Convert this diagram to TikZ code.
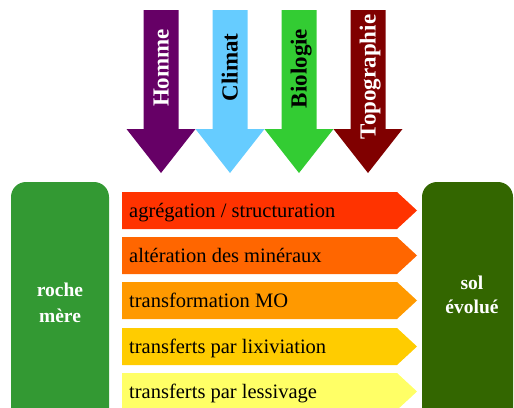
\documentclass[tikz,border=0pt]{standalone}
\usepackage{fontspec}
\setmainfont{Liberation Serif}
\definecolor{cHomme}{HTML}{660066}
\definecolor{cClimat}{HTML}{66CCFF}
\definecolor{cBio}{HTML}{33CC33}
\definecolor{cTopo}{HTML}{800000}
\definecolor{cBarA}{HTML}{FF3300}
\definecolor{cBarB}{HTML}{FF6600}
\definecolor{cBarC}{HTML}{FF9900}
\definecolor{cBarD}{HTML}{FFCC00}
\definecolor{cBarE}{HTML}{FFFF66}
\definecolor{cRoche}{HTML}{339933}
\definecolor{cSol}{HTML}{336600}
\begin{document}
\begin{tikzpicture}[x=1pt,y=-1pt,
  vtext/.style={rotate=90,anchor=base,inner sep=0pt,font=\fontsize{23}{27}\selectfont\bfseries},
  bartext/.style={anchor=base west,inner sep=0pt,text=black,font=\fontsize{20.5}{24}\selectfont},
  boxtext/.style={anchor=base,inner sep=0pt,text=white,font=\fontsize{19.5}{24}\selectfont\bfseries},
  bigbox/.style={rounded corners=15pt}]
\useasboundingbox (0,0) rectangle (514,407);
\clip (0,0) rectangle (514,407);
% vertical arrows
\foreach \cx/\col/\tcol/\lab/\yc/\nm in {161/cHomme/white/Homme/68/homme,230/cClimat/black/Climat/67.5/climat,299/cBio/black/Biologie/68.5/bio,368/cTopo/white/Topographie/77/topo}{
  \fill[\col] (\cx-17.5,10) -- (\cx+17.5,10) -- (\cx+17.5,129) -- (\cx+34.5,129) -- (\cx,173) -- (\cx-34.5,129) -- (\cx-17.5,129) -- cycle;
  \node[vtext,text=\tcol] (\nm) at (\cx+7.5,\yc) {\lab};
}
% horizontal bars
\foreach \t/\col/\lab/\nm in {192/cBarA/{agrégation / structuration}/bA,237/cBarB/{altération des minéraux}/bB,282/cBarC/{transformation MO}/bC,328/cBarD/{transferts par lixiviation}/bD,373/cBarE/{transferts par lessivage}/bE}{
  \fill[\col] (122,\t) -- (397,\t) -- (417,\t+18.5) -- (397,\t+37) -- (122,\t+37) -- cycle;
  \node[bartext] (\nm) at (129,\t+25.5) {\lab};
}
% side boxes
\fill[cRoche,bigbox] (11,182) rectangle (109,440);
\fill[cSol,bigbox] (422,182) rectangle (513,440);
\node[boxtext] (roche) at (60,296) {roche};
\node[boxtext] (mere) at (60,322) {mère};
\node[boxtext] (sol) at (472,289) {sol};
\node[boxtext] (evolue) at (472,313) {évolué};
\end{tikzpicture}
\end{document}
